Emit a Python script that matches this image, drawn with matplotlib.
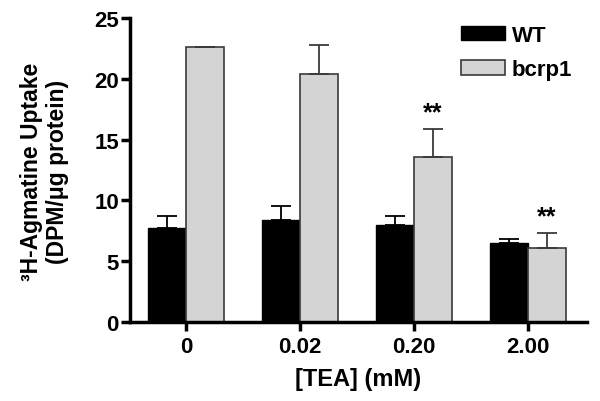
import matplotlib
matplotlib.use('Agg')
import matplotlib.pyplot as plt
import numpy as np

plt.rcParams['font.family'] = ['Liberation Sans', 'DejaVu Sans']
plt.rcParams['font.weight'] = 'bold'

# data
categories = ['0', '0.02', '0.20', '2.00']
wt = [7.7, 8.4, 8.0, 6.5]
wt_err = [1.0, 1.15, 0.75, 0.3]
bcrp1 = [22.65, 20.4, 13.6, 6.1]
bcrp1_err = [0.0, 2.35, 2.25, 1.25]
stars = ['', '', '**', '**']

fig = plt.figure(figsize=(6, 4.02), dpi=100)
ax = fig.add_axes([0.2167, 0.1965, 0.7617, 0.7562])

x = np.arange(len(categories))
w = 0.333
zeros = np.zeros(len(categories))

ax.bar(x - w/2, wt, w, color='black', edgecolor='black', linewidth=1, label='WT')
ax.bar(x + w/2, bcrp1, w, color='#d4d4d4', edgecolor='#3a3a3a', linewidth=1.2, label='bcrp1')
ax.errorbar(x - w/2, wt, yerr=[zeros, wt_err], fmt='none', ecolor='black', elinewidth=1.3, capsize=7, capthick=1.3)
ax.errorbar(x + w/2, bcrp1, yerr=[zeros, bcrp1_err], fmt='none', ecolor='#3a3a3a', elinewidth=1.3, capsize=7, capthick=1.3)

for i, s in enumerate(stars):
    if s:
        ax.text(x[i] + w/2, bcrp1[i] + bcrp1_err[i] + 0.8, s, ha='center', va='baseline', fontsize=18, fontweight='bold')

ax.set_xlim(-0.49, 3.52)
ax.set_ylim(0, 25)
ax.set_yticks([0, 5, 10, 15, 20, 25])
ax.set_xticks(x)
ax.set_xticklabels(categories)

for sp in ['top', 'right']:
    ax.spines[sp].set_visible(False)
for sp in ['left', 'bottom']:
    ax.spines[sp].set_linewidth(2.5)

ax.tick_params(axis='both', direction='out', length=6.5, width=2.5, labelsize=16, pad=1.5)
ax.tick_params(axis='x', pad=3.5)

ax.set_xlabel('[TEA] (mM)', fontsize=17, fontweight='bold', labelpad=7)
ax.set_ylabel('³H-Agmatine Uptake\n(DPM/μg protein)', fontsize=16.5, fontweight='bold', linespacing=1.2)
ax.yaxis.set_label_coords(-0.133, 0.497)

ax.legend(loc='upper left', bbox_to_anchor=(0.724, 0.978), frameon=False, fontsize=16, borderpad=0,
          borderaxespad=0, handlelength=2.0, handleheight=0.62, labelspacing=0.62, handletextpad=0.3)

fig.savefig('out.png', dpi=100)
